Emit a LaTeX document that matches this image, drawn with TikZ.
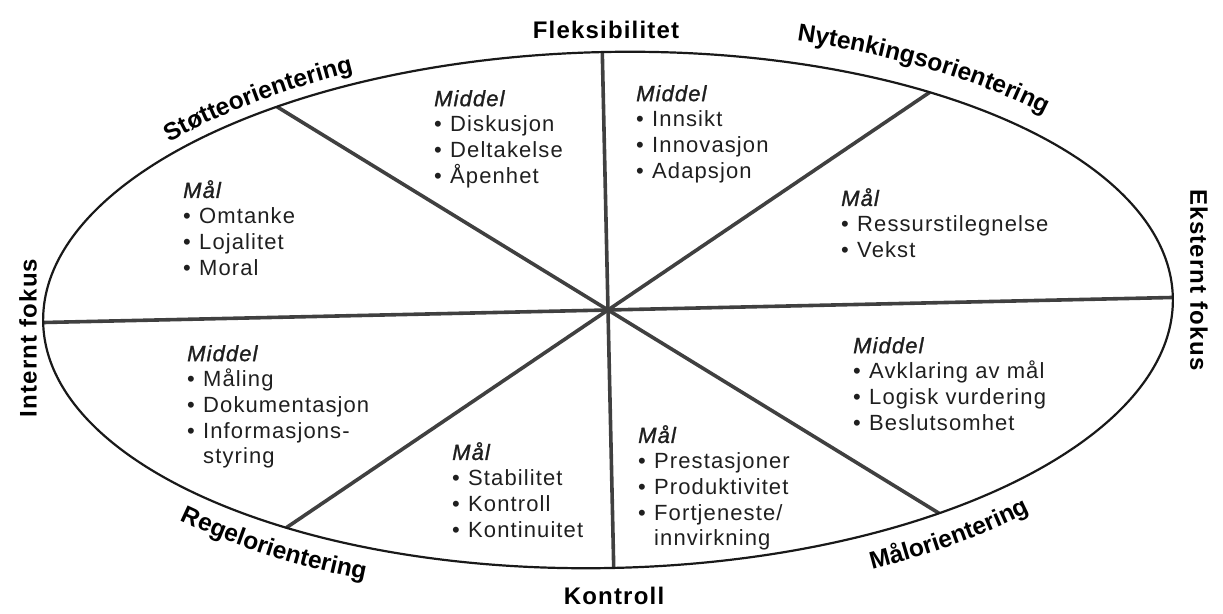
\documentclass[tikz,border=0pt]{standalone}
\usepackage{fontspec}
\setmainfont{Liberation Sans}[LetterSpace=5]
\newfontface\headface{Liberation Sans Italic}[FakeBold=1.2, LetterSpace=5]
\usetikzlibrary{decorations.text}

\newcommand\blockfont{\fontsize{22}{25.7}\selectfont}
\newcommand\rimfont{\bfseries\fontsize{24.5}{24.5}\selectfont}
\newcommand\hd[1]{{\headface #1}}
\newcommand\itm[1]{\makebox[16pt][l]{•}#1}
\newcommand\hang[1]{\hspace*{16pt}#1}

\begin{document}
\begin{tikzpicture}[x=1pt,y=1pt,
  rim/.style={line width=2.2pt, draw=black!90},
  spoke/.style={line width=3.6pt, draw=black!75},
  block/.style={anchor=north west, inner sep=0pt, align=left, font=\blockfont, text=black!88},
  axislabel/.style={inner sep=0pt, font=\bfseries\fontsize{24}{24}\selectfont},
  rimlabel/.style={decorate, decoration={text along path, text align=center, text={|\rimfont|#1}}}
]
\useasboundingbox (0,0) rectangle (1223,613);

\coordinate (C) at (608,303);
\begin{scope}[shift={(C)}, rotate=1.27]
  % end points of the eight spokes on the rim
  \coordinate (pR)  at (0:565 and 258);
  \coordinate (pT)  at (90:565 and 258);
  \coordinate (pL)  at (180:565 and 258);
  \coordinate (pB)  at (270:565 and 258);
  \coordinate (pTR) at (54.7:565 and 258);
  \coordinate (pTL) at (125.3:565 and 258);
  \coordinate (pBL) at (234.7:565 and 258);
  \coordinate (pBR) at (305.3:565 and 258);

  \draw[spoke] (pL) -- (pR);
  \draw[spoke] (pB) -- (pT);
  \draw[spoke] (pTL) -- (pBR);
  \draw[spoke] (pBL) -- (pTR);

  \draw[rim] (0,0) ellipse [x radius=565, y radius=258];

  % orientation names following the rim
  \path[rimlabel=Støtteorientering] (143.5:577 and 270) arc[start angle=143.5, end angle=112, x radius=577, y radius=270];
  \path[rimlabel=Nytenkingsorientering] (72.5:588 and 281) arc[start angle=72.5, end angle=39, x radius=588, y radius=281];
  \path[rimlabel=Regelorientering] (218.5:598 and 291) arc[start angle=218.5, end angle=249.5, x radius=598, y radius=291];
  \path[rimlabel=Målorientering] (291.2:601 and 294) arc[start angle=291.2, end angle=319.2, x radius=601, y radius=294];
\end{scope}

% axis names
\node[axislabel] (flex) at (606,583) {Fleksibilitet};
\node[axislabel] (kontroll) at (614,17) {Kontroll};
\node[axislabel, rotate=90] (intern) at (28,275) {Internt fokus};
\node[axislabel, rotate=-90] (ekstern) at (1199,333) {Eksternt fokus};

% sector contents
\node[block] (b1) at (434,523) {\hd{Middel}\\\itm{Diskusjon}\\\itm{Deltakelse}\\\itm{Åpenhet}};
\node[block] (b2) at (183,433) {\hd{Mål}\\\itm{Omtanke}\\\itm{Lojalitet}\\\itm{Moral}};
\node[block] (b3) at (636,528) {\hd{Middel}\\\itm{Innsikt}\\\itm{Innovasjon}\\\itm{Adapsjon}};
\node[block] (b4) at (841,425) {\hd{Mål}\\\itm{Ressurstilegnelse}\\\itm{Vekst}};
\node[block] (b5) at (187,268) {\hd{Middel}\\\itm{Måling}\\\itm{Dokumentasjon}\\\itm{Informasjons-}\\\hang{styring}};
\node[block] (b6) at (452,171) {\hd{Mål}\\\itm{Stabilitet}\\\itm{Kontroll}\\\itm{Kontinuitet}};
\node[block] (b7) at (638,188) {\hd{Mål}\\\itm{Prestasjoner}\\\itm{Produktivitet}\\\itm{Fortjeneste/}\\\hang{innvirkning}};
\node[block] (b8) at (853,276) {\hd{Middel}\\\itm{Avklaring av mål}\\\itm{Logisk vurdering}\\\itm{Beslutsomhet}};
\end{tikzpicture}
\end{document}
